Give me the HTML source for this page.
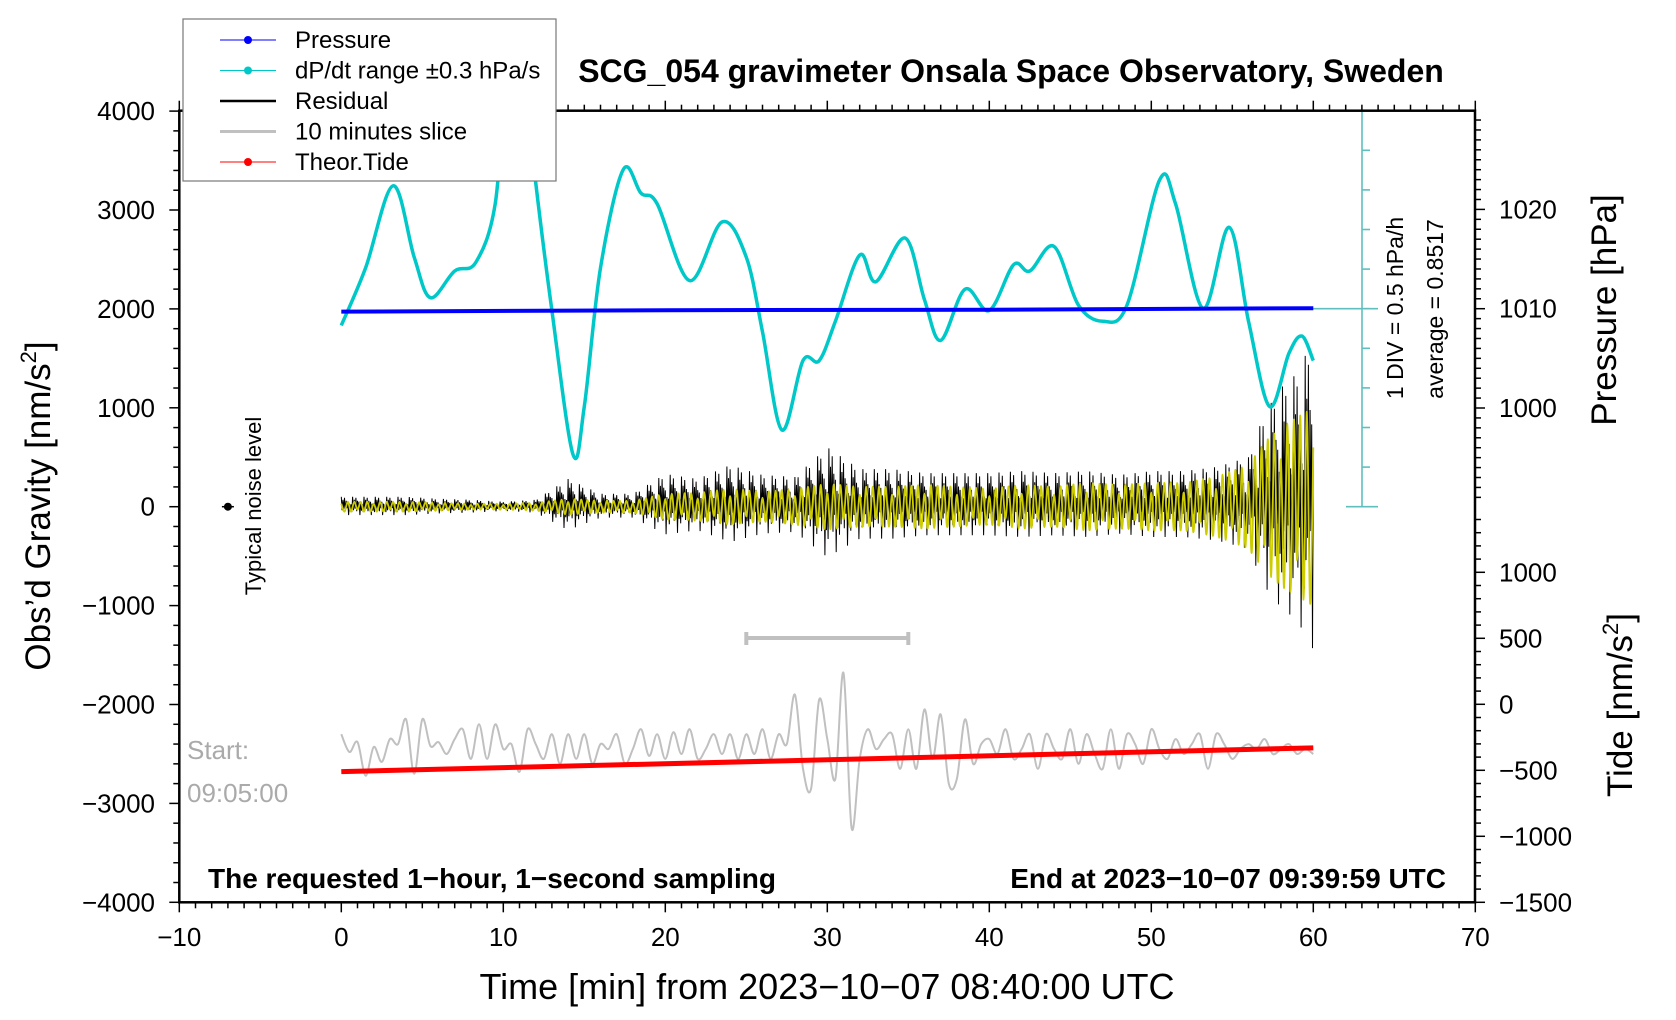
<!DOCTYPE html>
<html><head><meta charset="utf-8">
<style>
html,body{margin:0;padding:0;background:#fff;}
svg{display:block;font-family:"Liberation Sans",sans-serif;}
</style></head>
<body>
<svg id="chart" width="1676" height="1020" viewBox="0 0 1676 1020" xmlns="http://www.w3.org/2000/svg">
<g id="layer"></g>
</svg>
<script>
// ---- data ----
const dpdtTimes = [0,1.5,3.2,4.5,5.5,7,8.3,9.5,10.3,11.2,12,13,14.3,15,16,17.4,18.5,19.5,21.5,23.5,25,26,27.2,28.5,29.5,30.5,32,33,34.8,36,37,38.5,40,41.5,42.5,44,45.5,47,48.5,50.5,51.5,53.2,54.8,56,57.3,58.5,59.3,60];
const dpdtValues = [1833,2415,3245,2523,2113,2383,2470,3062,4500,4500,3278,1984,528,1013,2415,3407,3170,3062,2286,2879,2523,1768,776,1477,1477,1876,2544,2275,2717,2092,1682,2199,1984,2447,2383,2631,2038,1876,2038,3299,3062,2005,2825,1876,1013,1553,1725,1477];
const pressureTimes = [0,20,40,60];
const pressureValues = [1009.7,1009.85,1009.9,1010.05];
const tideTimes = [0,60];
const tideValues = [-510,-330];
const envTimes = [0,2,4,6,8,10,12,14,16,18,20,22,24,26,28,30,32,34,36,38,40,42,44,46,48,50,52,54,56,57,58,59,60];
const residualEnv = [100,100,100,80,70,50,70,280,130,130,330,280,420,320,300,600,380,380,340,340,340,360,340,360,320,360,360,400,500,950,1200,1350,1700];
const yellowEnv = [50,50,50,40,30,30,40,80,60,60,130,140,180,150,180,230,200,200,220,200,180,220,200,240,220,240,240,300,420,650,800,900,1000];
const slice = [-2300,-2480,-2380,-2720,-2430,-2580,-2350,-2400,-2150,-2700,-2150,-2420,-2380,-2500,-2350,-2250,-2550,-2200,-2550,-2200,-2450,-2400,-2680,-2250,-2400,-2550,-2300,-2600,-2300,-2550,-2300,-2600,-2400,-2450,-2300,-2600,-2450,-2250,-2520,-2300,-2550,-2280,-2500,-2250,-2550,-2450,-2300,-2500,-2300,-2550,-2300,-2500,-2250,-2550,-2300,-2400,-1900,-2650,-2850,-1950,-2350,-2750,-1680,-3250,-2550,-2250,-2450,-2350,-2300,-2650,-2250,-2650,-2050,-2550,-2100,-2800,-2750,-2150,-2600,-2400,-2350,-2500,-2250,-2550,-2450,-2300,-2650,-2300,-2450,-2550,-2250,-2600,-2300,-2500,-2650,-2250,-2650,-2300,-2400,-2600,-2250,-2450,-2550,-2350,-2500,-2400,-2300,-2650,-2300,-2400,-2550,-2450,-2400,-2450,-2350,-2500,-2450,-2400,-2500,-2450,-2500];
const xTicks = [-10,0,10,20,30,40,50,60,70];
const yTicks = [-4000,-3000,-2000,-1000,0,1000,2000,3000,4000];
const pTicks = [1000,1010,1020];
const tTicks = [-1500,-1000,-500,0,500,1000];

// ---- scales ----
const X0=179.3, XS=16.2, Y0=506.7, YS=0.0989;
const sx = t => X0 + (t+10)*XS;
const sy = v => Y0 - v*YS;
const sp = p => 308.7 - (p-1010)*9.93;
const st = v => 704.3 - v*0.132;
const NS='http://www.w3.org/2000/svg';
const layer=document.getElementById('layer');
function mk(tag, attrs, parent){const e=document.createElementNS(NS,tag);for(const k in attrs)e.setAttribute(k,attrs[k]);(parent||layer).appendChild(e);return e;}
function txt(s, attrs, parent){const e=mk('text',attrs,parent);e.textContent=s;return e;}
function interpEnv(arr,t){for(let i=0;i<envTimes.length-1;i++){if(t<=envTimes[i+1]){const f=(t-envTimes[i])/(envTimes[i+1]-envTimes[i]);return arr[i]+(arr[i+1]-arr[i])*f;}}return arr[arr.length-1];}
function smoothPath(pts){let d='M'+pts[0][0].toFixed(1)+','+pts[0][1].toFixed(1);for(let i=0;i<pts.length-1;i++){const p0=pts[i-1]||pts[i],p1=pts[i],p2=pts[i+1],p3=pts[i+2]||p2;const c1=[p1[0]+(p2[0]-p0[0])/6,p1[1]+(p2[1]-p0[1])/6],c2=[p2[0]-(p3[0]-p1[0])/6,p2[1]-(p3[1]-p1[1])/6];d+=`C${c1[0].toFixed(1)},${c1[1].toFixed(1)} ${c2[0].toFixed(1)},${c2[1].toFixed(1)} ${p2[0].toFixed(1)},${p2[1].toFixed(1)}`;}return d;}

const defs=mk('defs',{});const cp=mk('clipPath',{id:'plotclip'},defs);mk('rect',{x:179.3,y:110.5,width:1296,height:792},cp);

// ---- title ----
let e=txt('SCG_054 gravimeter Onsala Space Observatory, Sweden',{x:1011,y:82,'font-size':32,'font-weight':'bold','text-anchor':'middle'});


// ---- cyan scale axis ----
const cg=mk('g',{stroke:'#5fbfbf','stroke-width':1.6});

mk('line',{x1:1362,y1:110.7,x2:1362,y2:506.7},cg);
mk('line',{x1:1313,y1:308.7,x2:1378,y2:308.7},cg);
mk('line',{x1:1346,y1:110.7,x2:1378,y2:110.7},cg);
mk('line',{x1:1346,y1:506.7,x2:1378,y2:506.7},cg);
for(let i=1;i<10;i++){const y=110.7+i*39.6;mk('line',{x1:1362,y1:y,x2:1370,y2:y},cg);}
e=txt('1 DIV = 0.5 hPa/h',{x:0,y:0,'font-size':23,'text-anchor':'middle',transform:'translate(1403,308) rotate(-90)'});

e=txt('average = 0.8517',{x:0,y:0,'font-size':23,'text-anchor':'middle',transform:'translate(1443,309) rotate(-90)'});


// ---- series ----
const sg=mk('g',{'clip-path':'url(#plotclip)'});
let pts=slice.map((v,i)=>[sx(i*0.5),sy(v)]);
e=mk('path',{d:smoothPath(pts),fill:'none',stroke:'#c0c0c0','stroke-width':2},sg);

e=mk('polyline',{points:tideTimes.map((t,i)=>sx(t)+','+st(tideValues[i])).join(' '),fill:'none',stroke:'#ff0000','stroke-width':5},sg);

const jit=[1,0.35,0.7,0.2,0.9,0.45,0.6,0.15,0.5,0.85,0.3,0.4,0.25,0.55];
let rp=[];for(let k=0;k<=1200;k++){const t=k*0.05;const a=interpEnv(residualEnv,t)*jit[k%jit.length]*(k%2?-1:1);rp.push(sx(t).toFixed(1)+','+sy(a).toFixed(1));}
e=mk('polyline',{points:rp.join(' '),fill:'none',stroke:'#000','stroke-width':1},sg);

let yp=[];for(let k=0;k<=300;k++){const t=k*0.2;const a=interpEnv(yellowEnv,t)*(k%2?-1:1)*(k%5===0?0.6:1);yp.push([sx(t),sy(a)]);}
e=mk('path',{d:smoothPath(yp),fill:'none',stroke:'#cccc00','stroke-width':1.8},sg);

pts=dpdtTimes.map((t,i)=>[sx(t),sy(dpdtValues[i])]);
e=mk('path',{d:smoothPath(pts),fill:'none',stroke:'#00c8c8','stroke-width':3.5},sg);

e=mk('polyline',{points:pressureTimes.map((t,i)=>sx(t)+','+sp(pressureValues[i])).join(' '),fill:'none',stroke:'#0000ff','stroke-width':4},sg);


const bg=mk('g',{stroke:'#c0c0c0','stroke-width':4});

mk('line',{x1:sx(25),y1:638,x2:sx(35),y2:638},bg);
mk('line',{x1:sx(25),y1:632,x2:sx(25),y2:645},bg);
mk('line',{x1:sx(35),y1:632,x2:sx(35),y2:645},bg);

e=mk('circle',{cx:sx(-7),cy:sy(0),r:4,fill:'#000'});

mk('line',{x1:sx(-7)-6,y1:sy(0),x2:sx(-7)+6,y2:sy(0),stroke:'#000','stroke-width':1.5});
e=txt('Typical noise level',{x:0,y:0,'font-size':22,'text-anchor':'middle',transform:'translate(261,506) rotate(-90)'});


// ---- frame & ticks ----
const fg=mk('g',{stroke:'#000','stroke-width':2.5,fill:'none'});

mk('rect',{x:179.3,y:110.7,width:1295.7,height:791.6},fg);
const tg=mk('g',{stroke:'#000','stroke-width':1.5});
for(let t=-10;t<=70;t++){const x=sx(t),L=(t%10===0)?10:6;mk('line',{x1:x,y1:902.3,x2:x,y2:902.3+L},tg);mk('line',{x1:x,y1:110.7,x2:x,y2:110.7-L},tg);}
for(let v=-4000;v<=4000;v+=200){const y=sy(v),L=(v%1000===0)?10:6;mk('line',{x1:179.3,y1:y,x2:179.3-L,y2:y},tg);}
for(let p=991;p<=1029;p++){const y=sp(p),L=(p%10===0)?10:6;mk('line',{x1:1475,y1:y,x2:1475+L,y2:y},tg);}
for(let v=-1500;v<=1400;v+=100){const y=st(v),L=(v%500===0)?10:6;mk('line',{x1:1475,y1:y,x2:1475+L,y2:y},tg);}

xTicks.forEach(t=>{const e=txt(String(t).replace('-','\u2212'),{x:sx(t),y:946,'font-size':26,'text-anchor':'middle'});
});
yTicks.forEach(v=>{const e=txt(String(v).replace('-','\u2212'),{x:155,y:sy(v)+9,'font-size':26,'text-anchor':'end'});
});
pTicks.forEach(p=>{const e=txt(String(p),{x:1499,y:sp(p)+9,'font-size':26});
});
tTicks.forEach(v=>{const e=txt(String(v).replace('-','\u2212'),{x:1499,y:st(v)+9,'font-size':26});
});

e=txt('Time [min] from 2023\u221210\u221207 08:40:00 UTC',{x:827,y:999,'font-size':36,'text-anchor':'middle'});

e=mk('text',{x:0,y:0,'font-size':35,'text-anchor':'middle',transform:'translate(50,506) rotate(-90)'});
e.innerHTML='Obs\u2019d Gravity [nm/s<tspan font-size="22" dy="-14">2</tspan><tspan dy="14">]</tspan>';

e=txt('Pressure [hPa]',{x:0,y:0,'font-size':35,'text-anchor':'middle',transform:'translate(1616,310) rotate(-90)'});

e=mk('text',{x:0,y:0,'font-size':35,'text-anchor':'middle',transform:'translate(1632,705) rotate(-90)'});
e.innerHTML='Tide [nm/s<tspan font-size="22" dy="-14">2</tspan><tspan dy="14">]</tspan>';


e=txt('The requested 1\u2212hour, 1\u2212second sampling',{x:208,y:888,'font-size':28,'font-weight':'bold'});

e=txt('End at 2023\u221210\u221207 09:39:59 UTC',{x:1446,y:888,'font-size':28,'font-weight':'bold','text-anchor':'end'});

e=txt('Start:',{x:187,y:759,'font-size':26,fill:'#aaaaaa'});

e=txt('09:05:00',{x:187,y:802,'font-size':26,fill:'#aaaaaa'});


const lg=mk('g',{});

mk('rect',{x:183,y:19,width:373,height:162,fill:'#fff',stroke:'#777','stroke-width':1.2},lg);
const leg=[['Pressure','#0000ff',1,true],['dP/dt range \u00b10.3 hPa/s','#00c8c8',1,true],['Residual','#000',2.5,false],['10 minutes slice','#c0c0c0',3,false],['Theor.Tide','#ff0000',1,true]];
leg.forEach((l,i)=>{const y=40+i*30.5;const g=mk('g',{},lg);

mk('line',{x1:220,y1:y,x2:276,y2:y,stroke:l[1],'stroke-width':l[2]},g);
if(l[3])mk('circle',{cx:248,cy:y,r:4,fill:l[1]},g);
txt(l[0],{x:295,y:y+8,'font-size':24},g);});
</script>
</body></html>
